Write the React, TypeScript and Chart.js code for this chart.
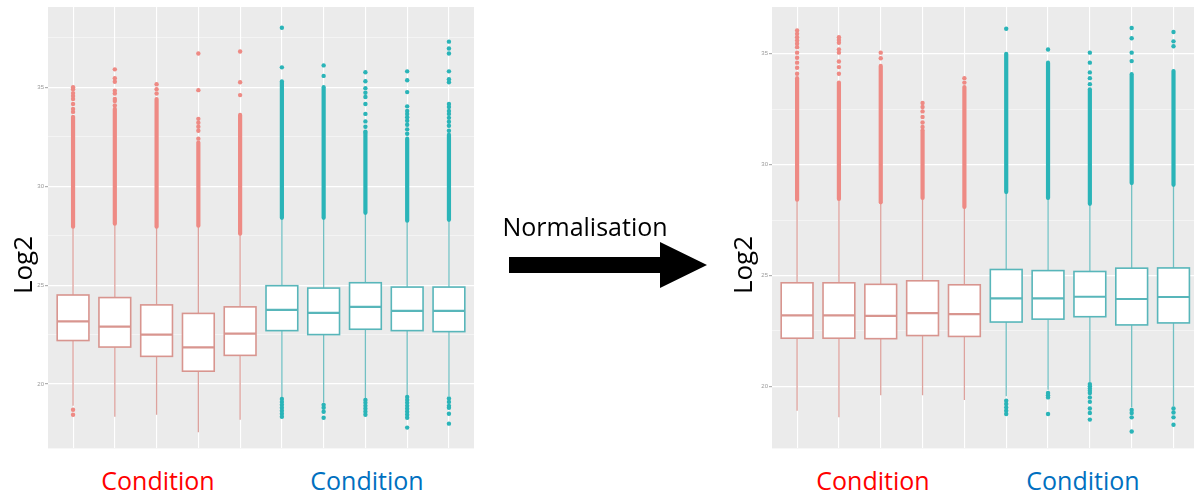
import React, { useEffect, useRef } from "react";
import { Chart, registerables } from "chart.js";
Chart.register(...registerables);

// ---------- data ----------
const categories = [1, 2, 3, 4, 5, 6, 7, 8, 9, 10];
const groups = ["red", "red", "red", "red", "red", "teal", "teal", "teal", "teal", "teal"];
const yTickValues = [20, 22.5, 25, 27.5, 30, 32.5, 35, 37.5];

// Before normalisation (left panel)
const beforeQ1 = [22.2, 21.87, 21.4, 20.65, 21.45, 22.7, 22.5, 22.77, 22.7, 22.65];
const beforeMedian = [23.17, 22.9, 22.5, 21.85, 22.55, 23.75, 23.6, 23.9, 23.7, 23.7];
const beforeQ3 = [24.5, 24.37, 24.0, 23.57, 23.9, 24.97, 24.85, 25.12, 24.9, 24.9];
const beforeWhiskerLow = [18.9, 18.35, 18.45, 17.57, 18.2, 19.35, 19.05, 19.3, 19.45, 19.4];
const beforeWhiskerHigh = [27.9, 28.05, 27.9, 27.95, 27.55, 28.35, 28.35, 28.6, 28.2, 28.25];
const beforeDenseLow = [27.95, 28.1, 27.95, 28.0, 27.6, 28.4, 28.4, 28.65, 28.25, 28.3];
const beforeDenseHigh = [33.5, 33.9, 34.4, 32.2, 33.6, 35.3, 35.0, 32.7, 32.4, 32.6];
const beforeHighOutliers = [
  [33.75, 33.9, 34.15, 34.4, 34.55, 34.7, 34.9, 35.0],
  [34.07, 34.3, 34.4, 34.68, 34.82, 35.27, 35.45, 35.9],
  [34.68, 34.9, 35.15],
  [32.4, 32.8, 33.0, 33.2, 33.4, 34.85, 36.7],
  [34.6, 35.25, 36.8],
  [36.0, 38.0],
  [35.57, 36.1],
  [32.75, 33.0, 33.27, 33.65, 34.15, 34.5, 34.72, 34.95, 35.3, 35.75],
  [32.65, 32.87, 33.1, 33.3, 33.48, 33.65, 33.8, 34.03, 34.75, 35.35, 35.8],
  [32.8, 33.05, 33.25, 33.45, 33.65, 33.8, 34.0, 34.15, 35.25, 35.4, 35.8, 36.7, 36.95, 37.3],
];
const beforeLowOutliers = [
  [18.7, 18.45],
  [],
  [],
  [],
  [],
  [19.25, 19.1, 18.95, 18.8, 18.65, 18.5, 18.35],
  [18.95, 18.8, 18.6, 18.3],
  [19.2, 19.05, 18.9, 18.75, 18.6, 18.45],
  [19.35, 19.2, 19.05, 18.9, 18.75, 18.6, 18.45, 18.3, 17.8],
  [19.27, 19.1, 18.9, 18.8, 18.5, 18.0],
];

// After normalisation (right panel)
const afterQ1 = [22.17, 22.17, 22.15, 22.29, 22.25, 22.9, 23.03, 23.14, 22.77, 22.86];
const afterMedian = [23.2, 23.2, 23.18, 23.3, 23.26, 23.97, 23.97, 24.04, 23.94, 24.03];
const afterQ3 = [24.67, 24.67, 24.6, 24.76, 24.58, 25.27, 25.22, 25.18, 25.33, 25.34];
const afterWhiskerLow = [18.9, 18.6, 19.6, 19.6, 19.38, 19.55, 19.85, 20.2, 19.05, 19.1];
const afterWhiskerHigh = [28.37, 28.4, 28.25, 28.45, 28.04, 28.71, 28.45, 28.18, 29.12, 29.04];
const afterDenseLow = [28.42, 28.45, 28.3, 28.5, 28.09, 28.76, 28.5, 28.23, 29.17, 29.09];
const afterDenseHigh = [33.9, 33.7, 34.45, 31.55, 33.5, 35.0, 34.6, 33.4, 34.08, 34.22];
const afterHighOutliers = [
  [34.1, 34.37, 34.6, 34.82, 35.05, 35.3, 35.45, 35.6, 35.75, 35.9, 36.05],
  [34.1, 34.4, 34.65, 35.05, 35.2, 35.5, 35.62, 35.75],
  [34.8, 35.05],
  [31.7, 31.9, 32.15, 32.4, 32.6, 32.78],
  [33.7, 33.9],
  [36.13],
  [35.19],
  [33.63, 33.9, 34.16, 34.6, 35.05],
  [34.67, 35.05, 35.7, 36.16],
  [35.34, 35.56, 35.98],
];
const afterLowOutliers = [
  [],
  [],
  [],
  [],
  [],
  [19.35, 19.2, 19.05, 18.9, 18.75],
  [19.7, 19.6, 19.5, 18.75],
  [20.1, 20.0, 19.9, 19.8, 19.7, 19.5, 19.3, 19.0, 18.8, 18.5],
  [18.93, 18.8, 18.6, 17.96],
  [19.0, 18.82, 18.6, 18.27],
];

// ---------- styles ----------
const PANEL_BG = "#EBEBEB";
const whiskerColors: Record<string, string> = { red: "#DDA29D", teal: "#72C0C3" };
const lineColors: Record<string, string> = { red: "#D8958F", teal: "#58B6BA" };
const pointColors: Record<string, string> = { red: "#EE8A84", teal: "#2AB4B8" };
const BOX_WIDTH = 0.76;

type Panel = {
  q1: number[];
  med: number[];
  q3: number[];
  wLo: number[];
  wHi: number[];
  dLo: number[];
  dHi: number[];
  hi: number[][];
  lo: number[][];
  yMin: number;
  yMax: number;
  xMax: number;
};

function makeChart(canvas: HTMLCanvasElement, p: Panel) {
  const boxPlugin = {
    id: "boxes",
    beforeDraw(chart: any) {
      const { ctx, chartArea: a } = chart;
      ctx.save();
      ctx.fillStyle = PANEL_BG;
      ctx.fillRect(a.left, a.top, a.right - a.left, a.bottom - a.top);
      ctx.restore();
    },
    beforeDatasetsDraw(chart: any) {
      const { ctx, chartArea: a } = chart;
      const x = chart.scales.x;
      const y = chart.scales.y;
      ctx.save();
      ctx.beginPath();
      ctx.rect(a.left, a.top, a.right - a.left, a.bottom - a.top);
      ctx.clip();
      categories.forEach((c, i) => {
        const g = groups[i];
        const cx = x.getPixelForValue(c);
        const left = x.getPixelForValue(c - BOX_WIDTH / 2);
        const right = x.getPixelForValue(c + BOX_WIDTH / 2);
        const yq1 = y.getPixelForValue(p.q1[i]);
        const yq3 = y.getPixelForValue(p.q3[i]);
        const ymed = y.getPixelForValue(p.med[i]);
        // whiskers
        ctx.strokeStyle = whiskerColors[g];
        ctx.lineWidth = 1.3;
        ctx.beginPath();
        ctx.moveTo(cx, y.getPixelForValue(p.wLo[i]));
        ctx.lineTo(cx, yq1);
        ctx.moveTo(cx, yq3);
        ctx.lineTo(cx, y.getPixelForValue(p.wHi[i]));
        ctx.stroke();
        // box
        ctx.strokeStyle = lineColors[g];
        ctx.fillStyle = "#FFFFFF";
        ctx.fillRect(left, yq3, right - left, yq1 - yq3);
        ctx.lineWidth = 1.6;
        ctx.strokeRect(left, yq3, right - left, yq1 - yq3);
        // median
        ctx.lineWidth = 2.2;
        ctx.beginPath();
        ctx.moveTo(left, ymed);
        ctx.lineTo(right, ymed);
        ctx.stroke();
        // dense band of overlapping outliers
        const yTop = y.getPixelForValue(p.dHi[i]);
        const yBot = y.getPixelForValue(p.dLo[i]);
        ctx.fillStyle = pointColors[g];
        const r = 2.1;
        ctx.beginPath();
        ctx.roundRect(cx - r, yTop - r, 2 * r, yBot - yTop + 2 * r, r);
        ctx.fill();
      });
      ctx.restore();
    },
  };

  const outlierData: { x: number; y: number }[] = [];
  const outlierColors: string[] = [];
  categories.forEach((c, i) => {
    [...p.hi[i], ...p.lo[i]].forEach((v) => {
      outlierData.push({ x: c, y: v });
      outlierColors.push(pointColors[groups[i]]);
    });
  });

  return new Chart(canvas, {
    type: "scatter",
    data: {
      datasets: [
        {
          data: outlierData,
          pointRadius: 2.2,
          pointBorderWidth: 0,
          pointBackgroundColor: outlierColors,
          pointBorderColor: outlierColors,
        },
      ],
    },
    options: {
      responsive: false,
      maintainAspectRatio: false,
      animation: false,
      events: [],
      layout: { padding: { top: 7, right: 0, left: 0, bottom: 0 } },
      plugins: { legend: { display: false }, tooltip: { enabled: false } },
      scales: {
        x: {
          type: "linear",
          min: 0.4,
          max: p.xMax,
          afterBuildTicks: (s: any) => {
            s.ticks = categories.map((v) => ({ value: v }));
          },
          afterFit: (s: any) => {
            s.height = 0;
          },
          ticks: { display: false },
          border: { display: false },
          grid: { color: "#FFFFFF", lineWidth: 1.1, drawTicks: false },
        },
        y: {
          type: "linear",
          min: p.yMin,
          max: p.yMax,
          afterBuildTicks: (s: any) => {
            s.ticks = yTickValues.map((v) => ({ value: v }));
          },
          afterFit: (s: any) => {
            s.width = 48;
          },
          ticks: {
            font: { size: 6, family: "Liberation Sans" },
            color: "#9A9A9A",
            padding: 1,
            callback: (v: any) => (Number(v) % 5 === 0 ? String(v) : ""),
          },
          border: { display: false },
          grid: {
            tickLength: 3,
            color: (ctx: any) =>
              ctx.tick && ctx.tick.value % 5 === 0 ? "#FFFFFF" : "rgba(255,255,255,0.55)",
            tickColor: (ctx: any) =>
              ctx.tick && ctx.tick.value % 5 === 0 ? "#B0B0B0" : "rgba(0,0,0,0)",
            lineWidth: (ctx: any) => (ctx.tick && ctx.tick.value % 5 === 0 ? 1.2 : 0.8),
          },
        },
      },
    },
    plugins: [boxPlugin],
  } as any);
}

const beforePanel: Panel = {
  q1: beforeQ1,
  med: beforeMedian,
  q3: beforeQ3,
  wLo: beforeWhiskerLow,
  wHi: beforeWhiskerHigh,
  dLo: beforeDenseLow,
  dHi: beforeDenseHigh,
  hi: beforeHighOutliers,
  lo: beforeLowOutliers,
  yMin: 16.75,
  yMax: 39.05,
  xMax: 10.6,
};

const afterPanel: Panel = {
  q1: afterQ1,
  med: afterMedian,
  q3: afterQ3,
  wLo: afterWhiskerLow,
  wHi: afterWhiskerHigh,
  dLo: afterDenseLow,
  dHi: afterDenseHigh,
  hi: afterHighOutliers,
  lo: afterLowOutliers,
  yMin: 17.2,
  yMax: 37.11,
  xMax: 10.49,
};

const FONT = "'Open Sans', 'Liberation Sans', sans-serif";

function Label(props: { text: string; cx: number; top: number; color: string; size?: number }) {
  return (
    <div
      style={{
        position: "absolute",
        left: props.cx - 150,
        width: 300,
        top: props.top,
        textAlign: "center",
        color: props.color,
        fontFamily: FONT,
        fontSize: props.size ?? 25,
        lineHeight: "30px",
        whiteSpace: "nowrap",
      }}
    >
      {props.text}
    </div>
  );
}

function YTitle(props: { cx: number; cy: number }) {
  return (
    <div
      style={{
        position: "absolute",
        left: props.cx - 50,
        top: props.cy - 15,
        width: 100,
        height: 30,
        lineHeight: "30px",
        textAlign: "center",
        fontFamily: FONT,
        fontSize: 26,
        color: "#000",
        transform: "rotate(-90deg)",
      }}
    >
      Log2
    </div>
  );
}

export default function App() {
  const leftRef = useRef<HTMLCanvasElement>(null);
  const rightRef = useRef<HTMLCanvasElement>(null);

  useEffect(() => {
    const c1 = makeChart(leftRef.current!, beforePanel);
    const c2 = makeChart(rightRef.current!, afterPanel);
    return () => {
      c1.destroy();
      c2.destroy();
    };
  }, []);

  return (
    <div
      style={{
        position: "fixed",
        left: 0,
        top: 0,
        width: 1198,
        height: 495,
        overflow: "hidden",
        background: "#FFFFFF",
      }}
    >
      <canvas
        ref={leftRef}
        width={478}
        height={453}
        style={{ position: "absolute", left: 0, top: 0, width: 478, height: 453 }}
      />
      <canvas
        ref={rightRef}
        width={474}
        height={453}
        style={{ position: "absolute", left: 724, top: 0, width: 474, height: 453 }}
      />
      <YTitle cx={22} cy={265} />
      <YTitle cx={742} cy={265} />
      <Label text="Condition" cx={158} top={465} color="#FF0000" />
      <Label text="Condition" cx={367} top={465} color="#0070C0" />
      <Label text="Condition" cx={873} top={465} color="#FF0000" />
      <Label text="Condition" cx={1083} top={465} color="#0070C0" />
      <Label text="Normalisation" cx={585} top={211} color="#000000" size={25} />
      <svg
        width={1198}
        height={495}
        style={{ position: "absolute", left: 0, top: 0, pointerEvents: "none" }}
      >
        <polygon points="509,257 660,257 660,242 707,265 660,288 660,273 509,273" fill="#000" />
      </svg>
    </div>
  );
}
